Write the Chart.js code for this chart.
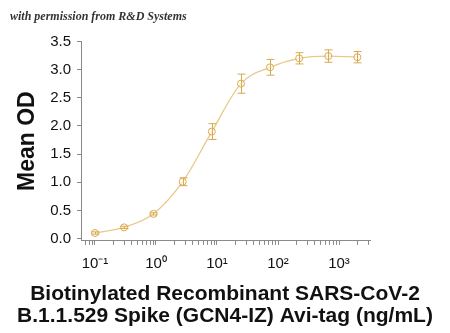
<!DOCTYPE html>
<html>
<head>
<meta charset="utf-8">
<script src="https://cdn.jsdelivr.net/npm/chart.js@4"></script>
<style>
  html, body { margin: 0; padding: 0; background: #fff; }
  #wrap { width: 450px; height: 333px; }
</style>
</head>
<body>
<div id="wrap"><canvas id="c" width="450" height="333"></canvas></div>
<script>
// concentration (ng/mL), 3-fold dilutions
const conc = [0.10, 0.30, 0.91, 2.74, 8.23, 24.7, 74.1, 222, 667, 2000];
const meanOD = [0.10, 0.20, 0.44, 1.01, 1.90, 2.75, 3.04, 3.20, 3.24, 3.22];
const errOD = [0.02, 0.02, 0.02, 0.07, 0.14, 0.17, 0.14, 0.10, 0.11, 0.10];
const xMajor = [0.1, 1, 10, 100, 1000];
const xMajorLabels = ["10\u207B\u00B9", "10\u2070", "10\u00B9", "10\u00B2", "10\u00B3"];
const yTicks = [0, 0.5, 1.0, 1.5, 2.0, 2.5, 3.0, 3.5];
const xTitle = ["Biotinylated Recombinant SARS-CoV-2", "B.1.1.529 Spike (GCN4-IZ) Avi-tag (ng/mL)"];

const pointColor = "#d9a94e";
const lineColor = "#e9c98a";
const axisColor = "#8a8a8a";
const sans = "Arial, 'Liberation Sans', sans-serif";

const errorBars = {
    id: "errorBars",
    afterDatasetsDraw(chart) {
        const { ctx, scales } = chart;
        ctx.save();
        ctx.strokeStyle = pointColor;
        ctx.lineWidth = 1;
        conc.forEach((c, i) => {
            const x = Math.round(scales.x.getPixelForValue(c)) + 0.5;
            const yt = scales.y.getPixelForValue(meanOD[i] + errOD[i]);
            const yb = scales.y.getPixelForValue(meanOD[i] - errOD[i]);
            ctx.beginPath();
            ctx.moveTo(x, yt); ctx.lineTo(x, yb);
            ctx.moveTo(x - 4, yt); ctx.lineTo(x + 4, yt);
            ctx.moveTo(x - 4, yb); ctx.lineTo(x + 4, yb);
            ctx.stroke();
        });
        ctx.restore();
    },
};

new Chart(document.getElementById("c"), {
    type: "line",
    data: {
        datasets: [
            {
                data: conc.map((c, i) => ({ x: c, y: meanOD[i] })),
                borderColor: lineColor,
                borderWidth: 1.3,
                cubicInterpolationMode: "monotone",
                pointRadius: 3.5,
                pointBorderWidth: 1,
                pointBorderColor: pointColor,
                pointBackgroundColor: "rgba(255,255,255,0.6)",
                fill: false,
            },
        ],
    },
    options: {
        responsive: false,
        animation: false,
        devicePixelRatio: 1,
        layout: { padding: { left: 10, right: 10, top: 0, bottom: 0 } },
        plugins: {
            legend: { display: false },
            tooltip: { enabled: false },
            title: {
                display: true,
                text: "with permission from R&D Systems",
                align: "start",
                color: "#333",
                font: { family: "'Liberation Serif'", style: "italic", size: 12 },
                padding: { top: 10, bottom: 17 },
            },
            // x axis title, drawn as a bottom subtitle so it can be wider than the plot
            subtitle: {
                display: true,
                position: "bottom",
                text: xTitle,
                color: "#111",
                font: { family: sans, weight: "bold", size: 21, lineHeight: 1.05 },
                padding: { top: 12, bottom: 6 },
            },
        },
        scales: {
            x: {
                type: "logarithmic",
                min: 0.059,
                max: 3220,
                afterBuildTicks: (scale) => {
                    scale.ticks = scale.ticks.filter((t) => {
                        const s = t.value / Math.pow(10, Math.floor(Math.log10(t.value) + 1e-9));
                        return Math.abs(s - Math.round(s)) < 1e-6;
                    });
                },
                afterFit: (scale) => { scale.height = 30; },
                border: { color: axisColor, width: 1 },
                grid: {
                    drawOnChartArea: false,
                    tickLength: 4,
                    tickColor: axisColor,
                },
                ticks: {
                    autoSkip: false,
                    maxRotation: 0,
                    padding: 10,
                    color: "#111",
                    font: { family: sans, size: 15 },
                    callback: (v) => {
                        const i = xMajor.findIndex((m) => Math.abs(v - m) / m < 1e-6);
                        return i >= 0 ? xMajorLabels[i] : "";
                    },
                },
            },
            y: {
                min: -0.04,
                max: 3.5,
                afterBuildTicks: (scale) => {
                    scale.ticks = yTicks.map((v) => ({ value: v }));
                },
                afterFit: (scale) => { scale.width = 71; },
                border: { color: axisColor, width: 1 },
                grid: {
                    drawOnChartArea: false,
                    tickLength: 4,
                    tickColor: axisColor,
                },
                ticks: {
                    padding: 6,
                    color: "#111",
                    font: { family: sans, size: 15 },
                    callback: (v) => Number(v).toFixed(1),
                },
                title: {
                    display: true,
                    text: "Mean OD",
                    color: "#111",
                    font: { family: sans, weight: "bold", size: 23 },
                    padding: { top: 4, bottom: 0 },
                },
            },
            // empty right-hand spacer so the plot ends where the reference's does
            spacer: {
                type: "linear",
                position: "right",
                afterFit: (scale) => { scale.width = 70; },
                border: { display: false },
                grid: { display: false },
                ticks: { display: false },
            },
        },
    },
    plugins: [errorBars],
});
</script>
</body>
</html>
